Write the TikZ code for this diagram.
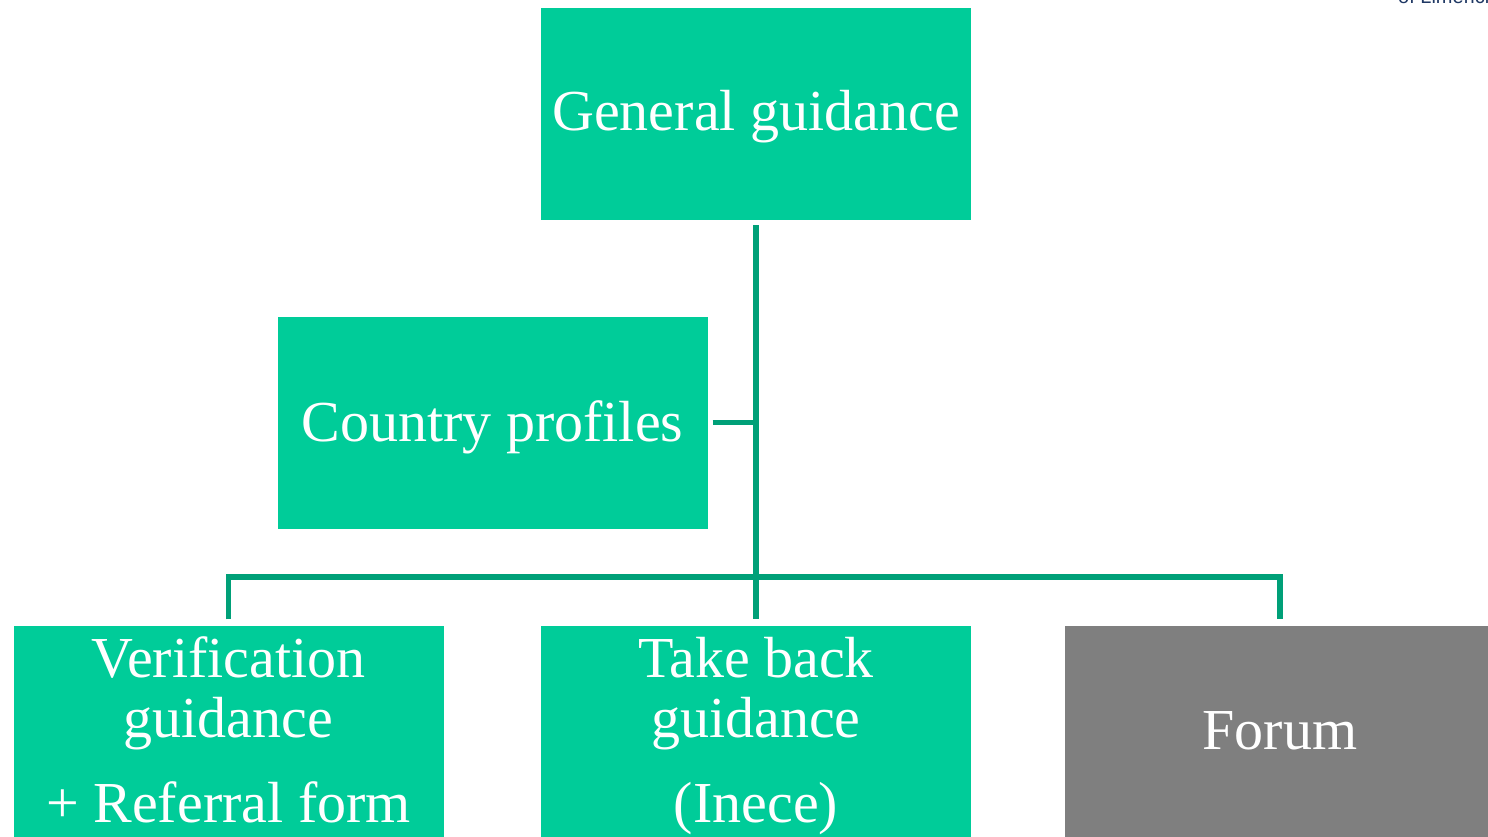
\documentclass[tikz,border=0pt]{standalone}
\usepackage{fontspec}
\setmainfont{Liberation Serif}
\newfontfamily\logofont{Liberation Sans}
\definecolor{boxgreen}{HTML}{00CC99}
\definecolor{linegreen}{HTML}{00A078}
\definecolor{boxgray}{HTML}{7F7F7F}
\definecolor{logoblue}{HTML}{1F3864}
\tikzset{
  boxnode/.style={rectangle, draw=none, fill=boxgreen, minimum width=430pt, minimum height=212pt, inner sep=0pt},
  graybox/.style={boxnode, fill=boxgray},
  boxtext/.style={anchor=base, text=white, inner sep=0pt, font=\fontsize{58}{60}\selectfont},
  conn/.style={draw=linegreen, line width=5.5pt}
}
\begin{document}
\begin{tikzpicture}[x=1pt,y=-1pt]
\useasboundingbox (0,0) rectangle (1488,836);
% boxes
\node[boxnode] (gen) at (756,113.5) {};
\node[boxnode] (country) at (492.5,422.5) {};
\node[boxnode] (verif) at (228.5,731.5) {};
\node[boxnode] (take) at (756,731.5) {};
\node[graybox] (forum) at (1280,731.5) {};
% texts
\node[boxtext] (gent) at (756,130) {General guidance};
\node[boxtext] (countryt) at (492.5,441) {Country profiles};
\node[boxtext] (verif1) at (228.5,677) {Verification};
\node[boxtext] (verif2) at (228.5,737) {guidance};
\node[boxtext] (verif3) at (228.5,822) {+ Referral form};
\node[boxtext] (take1) at (756,677) {Take back};
\node[boxtext] (take2) at (756,737) {guidance};
\node[boxtext] (take3) at (756,822) {(Inece)};
\node[boxtext] (forumt) at (1280,749) {Forum};
% logo fragment at top right
\node[anchor=base west, inner sep=0pt, text=logoblue, font=\logofont\fontsize{20}{22}\selectfont] (logo) at (1398,3) {of Limerick};
% connectors
\coordinate (bus) at (756,577);
\draw[conn] ([yshift=-5.5pt]gen.south) -- ([yshift=6pt]take.north);
\draw[conn] ([yshift=6pt]verif.north) |- (bus) -| ([yshift=6pt]forum.north);
\draw[conn] ([xshift=5pt]country.east) -- (country.east -| gen.south);
\end{tikzpicture}
\end{document}
